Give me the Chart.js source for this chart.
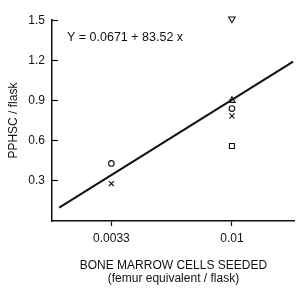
<!DOCTYPE html>
<html>
<head>
<meta charset="utf-8">
<script src="https://cdn.jsdelivr.net/npm/chart.js@4/dist/chart.umd.min.js"></script>
<style>
  html, body { margin: 0; padding: 0; background: #fff; }
  #wrap { width: 300px; height: 288px; position: relative; }
</style>
</head>
<body>
<div id="wrap"><canvas id="chart"></canvas></div>
<script>
// cells seeded (femur equivalent / flask)
const seeded = [0.0033, 0.01];
// PPHSC per flask, one array per experiment symbol
const circleVals = [0.43, 0.84];
const crossVals = [0.28, 0.785];
const triUpVals = [null, 0.90];
const triDownVals = [null, 1.51];
const squareVals = [null, 0.56];
// regression line end points
const fitX = [0.0004, 0.0134];
const fitY = [0.10, 1.19];
const equation = "Y = 0.0671 + 83.52 x";

const xTicks = [0.0033, 0.01];
const yTicks = [0.3, 0.6, 0.9, 1.2, 1.5];

const ink = "#111";
const font = "'Liberation Sans', Arial, sans-serif";

function pts(xs, ys) {
  return xs.map((x, i) => ({ x: x, y: ys[i] })).filter(p => p.y !== null);
}

function marker(label, data, style, radius, rotation) {
  return {
    type: "scatter",
    label: label,
    data: data,
    pointStyle: style,
    pointRadius: radius,
    pointRotation: rotation || 0,
    pointBorderColor: ink,
    pointBackgroundColor: "#fff",
    pointBorderWidth: 1.1,
    showLine: false,
    clip: false
  };
}

const equationLabel = {
  id: "equationLabel",
  afterDraw(chart) {
    const ctx = chart.ctx;
    const area = chart.chartArea;
    ctx.save();
    ctx.fillStyle = ink;
    ctx.font = "12.5px " + font;
    ctx.textBaseline = "middle";
    ctx.textAlign = "left";
    ctx.fillText(equation, area.left + 15, area.top + 17);
    ctx.restore();
  }
};

new Chart(document.getElementById("chart"), {
  type: "scatter",
  data: {
    datasets: [
      {
        type: "line",
        label: "fit",
        data: pts(fitX, fitY),
        borderColor: ink,
        borderWidth: 2,
        pointRadius: 0,
        fill: false
      },
      marker("circle", pts(seeded, circleVals), "circle", 2.8),
      marker("cross", pts(seeded, crossVals), "crossRot", 3.5),
      marker("triangle", pts(seeded, triUpVals), "triangle", 3.8),
      marker("inverted triangle", pts(seeded, triDownVals), "triangle", 3.8, 180),
      marker("square", pts(seeded, squareVals), "rect", 3.5)
    ]
  },
  options: {
    responsive: true,
    maintainAspectRatio: false,
    animation: false,
    layout: { padding: { top: 20, right: 5, left: 0, bottom: 0 } },
    plugins: {
      legend: { display: false },
      tooltip: { enabled: false }
    },
    scales: {
      x: {
        type: "linear",
        min: 0,
        max: 0.0135,
        afterBuildTicks: (scale) => { scale.ticks = xTicks.map(v => ({ value: v })); },
        afterFit: (scale) => { scale.height = 67; },
        border: { display: true, color: ink, width: 1.5 },
        grid: { drawOnChartArea: false, drawTicks: true, tickLength: 5, tickColor: ink, tickWidth: 1.2 },
        ticks: {
          color: ink,
          padding: 5,
          maxRotation: 0,
          font: { family: font, size: 12 },
          callback: (v) => String(v)
        },
        title: {
          display: true,
          text: ["BONE MARROW CELLS SEEDED", "(femur equivalent / flask)"],
          color: ink,
          font: { family: font, size: 12, lineHeight: 1.08 },
          padding: { top: 14, bottom: 2.5 }
        }
      },
      y: {
        min: 0,
        max: 1.5,
        afterBuildTicks: (scale) => { scale.ticks = yTicks.map(v => ({ value: v })); },
        afterFit: (scale) => { scale.width = 52; },
        border: { display: true, color: ink, width: 1.5 },
        grid: { drawOnChartArea: false, drawTicks: true, tickLength: -6, tickColor: ink, tickWidth: 1.2 },
        ticks: {
          color: ink,
          padding: 13,
          font: { family: font, size: 12 },
          callback: (v) => String(v)
        },
        title: {
          display: true,
          text: "PPHSC / flask",
          color: ink,
          font: { family: font, size: 12 },
          padding: { top: 6, bottom: 0 }
        }
      }
    }
  },
  plugins: [equationLabel]
});
</script>
</body>
</html>
